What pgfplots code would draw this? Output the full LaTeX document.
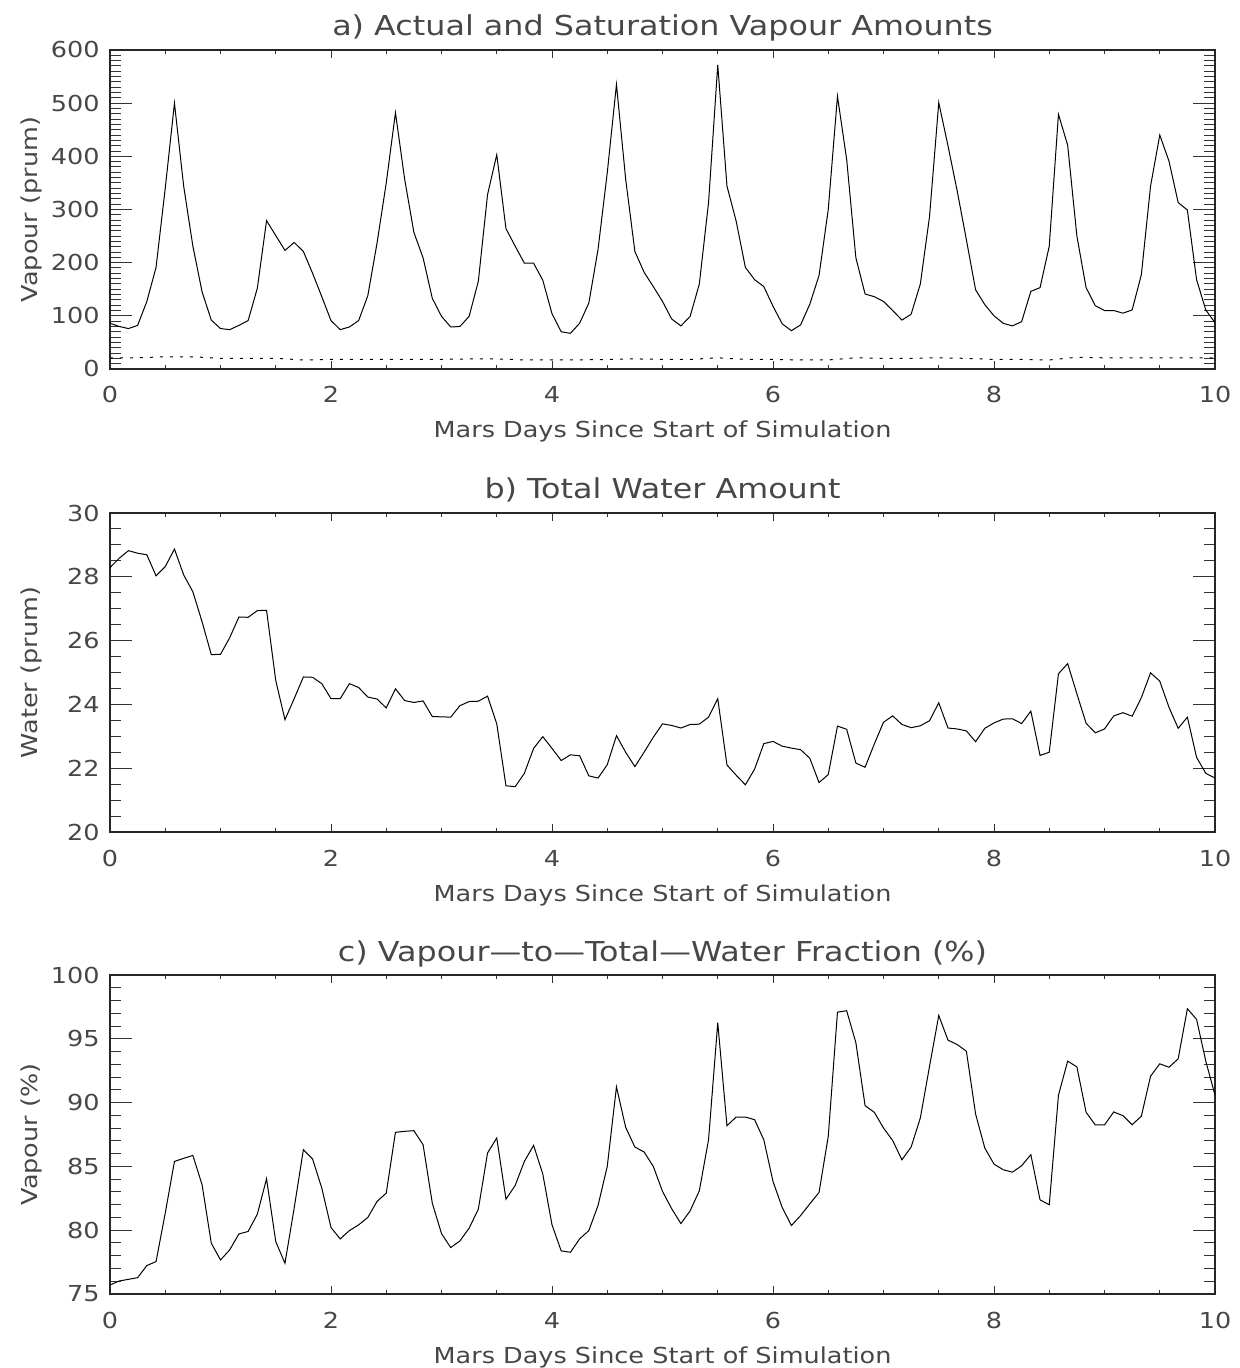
\documentclass[border=0pt]{standalone}
\usepackage{fontspec}
\setmainfont{DejaVu Sans}[FakeStretch=1.16]
\usepackage{pgfplots}
\usepackage{pgfplotstable}
\pgfplotsset{compat=1.18}

\pgfplotstableread{
v
86
80
76
82
127
191
340
500
344
231
145
92
76
74
82
91
152
279
251
223
238
221
180
136
91
74
79
91
138
237
350
482
357
257
209
133
99
79
80
99
165
328
403
264
231
199
199
167
104
70
67
86
124
225
369
535
357
221
182
155
127
94
81
99
160
313
572
344
278
191
168
155
118
85
72
83
122
176
300
513
394
209
141
136
127
110
92
103
160
287
501
420
335
243
149
121
100
86
81
89
146
153
231
479
421
250
153
119
110
110
105
111
177
344
440
391
313
299
168
111
87
}\vapour

\pgfplotstableread{
x s
0 21
0.25 21
0.5 23
0.75 23
1.0 20
1.25 20
1.5 20
1.75 17
2.0 18
2.25 18
2.5 18
2.75 18
3.0 18
3.25 19
3.5 19
3.75 17
4.0 17
4.25 17
4.5 18
4.75 19
5.0 18
5.25 18
5.5 21
5.75 18
6.0 18
6.25 17
6.5 17
6.75 21
7.0 20
7.25 20
7.5 21
7.75 20
8.0 18
8.25 18
8.5 17
8.75 22
9.0 21
9.25 21
9.5 21
9.75 21
10.0 21
}\satur

\pgfplotstableread{
v
28.29
28.58
28.82
28.74
28.69
28.03
28.32
28.87
28.06
27.53
26.59
25.56
25.57
26.09
26.74
26.73
26.94
26.95
24.75
23.52
24.18
24.86
24.85
24.65
24.18
24.18
24.65
24.53
24.23
24.17
23.89
24.49
24.12
24.06
24.11
23.62
23.61
23.60
23.96
24.09
24.10
24.26
23.39
21.45
21.42
21.84
22.62
22.99
22.62
22.24
22.42
22.39
21.76
21.69
22.11
23.02
22.50
22.05
22.50
22.97
23.39
23.34
23.26
23.37
23.38
23.60
24.18
22.10
21.78
21.48
21.97
22.77
22.84
22.69
22.63
22.58
22.31
21.55
21.80
23.32
23.22
22.16
22.03
22.76
23.44
23.64
23.37
23.27
23.33
23.49
24.05
23.26
23.23
23.17
22.83
23.25
23.42
23.54
23.55
23.40
23.79
22.40
22.50
24.96
25.28
24.33
23.41
23.11
23.23
23.64
23.74
23.63
24.21
24.99
24.73
23.91
23.25
23.60
22.34
21.84
21.69
}\water

\pgfplotstableread{
v
75.71
76.02
76.15
76.28
77.23
77.54
81.34
85.39
85.63
85.86
83.56
78.98
77.67
78.46
79.71
79.90
81.26
84.03
79.11
77.41
81.73
86.31
85.58
83.30
80.21
79.32
79.97
80.42
81.00
82.25
82.91
87.67
87.75
87.80
86.70
82.12
79.74
78.64
79.16
80.16
81.65
86.05
87.23
82.43
83.51
85.39
86.65
84.40
80.42
78.38
78.27
79.32
79.97
81.94
85.00
91.23
88.06
86.52
86.13
85.00
83.04
81.68
80.52
81.52
83.09
87.09
96.26
88.19
88.87
88.87
88.66
87.09
83.82
81.78
80.37
81.15
82.07
82.96
87.36
97.09
97.20
94.69
89.76
89.24
88.01
87.02
85.52
86.52
88.80
92.85
96.83
94.90
94.55
94.03
89.11
86.44
85.18
84.74
84.55
85.05
85.92
82.38
81.99
90.58
93.25
92.80
89.24
88.25
88.25
89.27
88.98
88.27
88.93
92.07
93.04
92.77
93.43
97.36
96.52
93.25
90.58
}\frac

\pgfplotsset{
  idl/.style={
    scale only axis,
    width=552.5pt, height=159.5pt,
    anchor=north west,
    xmin=0, xmax=10,
    xtick={0,2,4,6,8,10},
    minor x tick num=3,
    tick align=inside,
    axis line style={line width=0.6pt, black!85},
    every tick/.style={black!80, line width=0.5pt},
    xtick style={/pgfplots/major tick length=4pt, /pgfplots/minor tick length=2pt},
    ytick style={/pgfplots/major tick length=11pt, /pgfplots/minor tick length=5.5pt},
    /pgf/number format/assume math mode=true,
    ticklabel style={font=\fontsize{11}{13}\selectfont, text=black!72},
    xticklabel style={inner sep=0pt, anchor=base, yshift=-17pt},
    yticklabel style={inner sep=0pt, anchor=east, xshift=-5pt},
    every axis title/.style={at={(axis description cs:0.5,1.0439)}, anchor=base,
      font=\fontsize{13.7}{16}\selectfont, text=black!72},
    every axis x label/.style={at={(axis description cs:0.5,-0.2163)}, anchor=base,
      font=\fontsize{11}{13}\selectfont, text=black!72},
    every axis y label/.style={at={(axis description cs:-0.0652,0.5)}, rotate=90, anchor=base,
      font=\fontsize{11}{13}\selectfont, text=black!72},
    xlabel={Mars Days Since Start of Simulation},
    clip=true,
  }
}

\begin{document}
\begin{tikzpicture}
\path[use as bounding box] (-55pt,25pt) rectangle (564.5pt,-659pt);

\begin{axis}[idl, at={(0pt,0pt)},
  ymin=0, ymax=600, ytick={0,100,...,600}, minor y tick num=9,
  title={a) Actual and Saturation Vapour Amounts},
  ylabel={Vapour (prum)}]
\addplot[black, line width=0.5pt] table[x expr=\coordindex/12, y=v] {\vapour};
\addplot[black, line width=0.5pt, dash pattern=on 1.5pt off 3.5pt] table[x=x, y=s] {\satur};
\end{axis}

\begin{axis}[idl, at={(0pt,-231.5pt)},
  ymin=20, ymax=30, ytick={20,22,...,30}, minor y tick num=3,
  title={b) Total Water Amount},
  ylabel={Water (prum)}]
\addplot[black, line width=0.5pt] table[x expr=\coordindex/12, y=v] {\water};
\end{axis}

\begin{axis}[idl, at={(0pt,-462.5pt)},
  ymin=75, ymax=100, ytick={75,80,...,100}, minor y tick num=4,
  title={c) Vapour---to---Total---Water Fraction (\%)},
  ylabel={Vapour (\%)}]
\addplot[black, line width=0.5pt] table[x expr=\coordindex/12, y=v] {\frac};
\end{axis}
\end{tikzpicture}
\end{document}
